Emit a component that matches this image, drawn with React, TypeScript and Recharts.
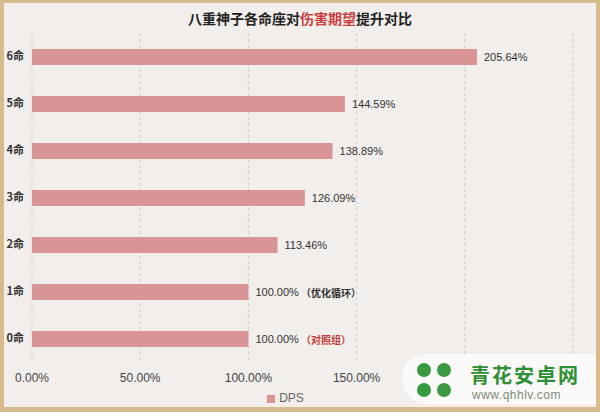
import React from 'react';
import { BarChart, Bar, XAxis, YAxis, CartesianGrid, Legend, LabelList } from 'recharts';

const categories = ['6命', '5命', '4命', '3命', '2命', '1命', '0命'];
const dpsValues = [205.64, 144.59, 138.89, 126.09, 113.46, 100.0, 100.0];
const notes = ['', '', '', '', '', '（优化循环）', '（对照组）'];
const noteColors = ['#333', '#333', '#333', '#333', '#333', '#333', '#c23b3b'];
const xTicks = [0, 50, 100, 150, 200, 250];
const visibleTickMax = 150;

const data = categories.map((c, i) => ({ name: c, DPS: dpsValues[i] }));

const BAR_COLOR = '#d99596';
const NUM_FONT = '"Liberation Sans", Arial, sans-serif';
const CJK_FONT = '"Noto Sans CJK SC", sans-serif';

const renderLabel = (props: any) => {
  const { x, y, width, height, value, index } = props;
  const tx = Number(x) + Number(width) + 7;
  const ty = Number(y) + Number(height) / 2;
  return (
    <text x={tx} y={ty} dominantBaseline="central" fontSize={11} fontFamily={NUM_FONT} fill="#333">
      {Number(value).toFixed(2) + '%'}
      {notes[index] ? (
        <tspan fill={noteColors[index]} fontFamily={CJK_FONT} fontWeight={700} fontSize={10}>
          {' ' + notes[index]}
        </tspan>
      ) : null}
    </text>
  );
};

const XTick = (props: any) => {
  const { x, y, payload } = props;
  if (payload.value > visibleTickMax) return <g />;
  return (
    <text x={x} y={y} dy={10} textAnchor="middle" fontSize={12} fontFamily={NUM_FONT} fill="#444">
      {Number(payload.value).toFixed(2) + '%'}
    </text>
  );
};

export default function App() {
  return (
    <div style={{ position: 'absolute', left: 0, top: 0, width: 600, height: 412, background: '#f2eeeb', overflow: 'hidden' }}>
      <div
        style={{
          position: 'absolute',
          top: 8,
          left: 0,
          width: 600,
          textAlign: 'center',
          fontFamily: CJK_FONT,
          fontWeight: 700,
          fontSize: 14,
          color: '#222',
          lineHeight: '20px',
        }}
      >
        八重神子各命座对<span style={{ color: '#c9403e' }}>伤害期望</span>提升对比
      </div>
      <div style={{ position: 'absolute', left: 0, top: 0 }}>
        <BarChart
          width={600}
          height={412}
          data={data}
          layout="vertical"
          margin={{ top: 33, right: 27, left: 8, bottom: 1 }}
          barCategoryGap={15}
        >
          <CartesianGrid horizontal={false} stroke="#cfcac6" strokeDasharray="3 3" />
          <XAxis
            type="number"
            domain={[0, 250]}
            ticks={xTicks}
            axisLine={false}
            tickLine={false}
            tickMargin={4}
            height={29}
            tick={<XTick />}
            interval={0}
          />
          <YAxis
            type="category"
            dataKey="name"
            width={24}
            axisLine={false}
            tickLine={false}
            tick={{ fill: '#333', fontSize: 11, fontFamily: CJK_FONT, fontWeight: 700 }}
          />
          <Legend
            verticalAlign="bottom"
            iconType="square"
            iconSize={8}
            height={20}
            wrapperStyle={{ fontSize: 12, fontFamily: NUM_FONT, color: '#666' }}
            formatter={(v: string) => <span style={{ color: '#666' }}>{v}</span>}
          />
          <Bar dataKey="DPS" fill={BAR_COLOR} barSize={16} isAnimationActive={false}>
            <LabelList dataKey="DPS" content={renderLabel} />
          </Bar>
        </BarChart>
      </div>
      {/* watermark overlay */}
      <div
        style={{
          position: 'absolute',
          left: 402,
          top: 354,
          width: 220,
          height: 50,
          borderRadius: 25,
          background: '#fbfaf8',
        }}
      />
      <svg style={{ position: 'absolute', left: 410, top: 358 }} width={50} height={44}>
        <circle cx={14} cy={12} r={7} fill="#3a9a3f" />
        <circle cx={34} cy={12} r={7} fill="#3a9a3f" />
        <circle cx={14} cy={32} r={7} fill="#3a9a3f" />
        <circle cx={34} cy={32} r={7} fill="#3a9a3f" />
        <circle cx={24} cy={22} r={6} fill="#fbfaf8" />
      </svg>
      <div
        style={{
          position: 'absolute',
          left: 470,
          top: 364,
          fontFamily: CJK_FONT,
          fontWeight: 700,
          fontSize: 20,
          lineHeight: '22px',
          color: '#2f8f35',
          letterSpacing: 2,
        }}
      >
        青花安卓网
      </div>
      <div
        style={{
          position: 'absolute',
          left: 472,
          top: 389,
          fontFamily: NUM_FONT,
          fontSize: 12,
          lineHeight: '13px',
          color: '#7a8a7a',
          letterSpacing: 0.5,
        }}
      >
        www.qhhlv.com
      </div>
      <div
        style={{
          position: 'absolute',
          left: 0,
          top: 0,
          width: 600,
          height: 412,
          boxSizing: 'border-box',
          borderStyle: 'solid',
          borderColor: '#d8bb8c',
          borderWidth: '3px 4px 5px 4px',
          pointerEvents: 'none',
        }}
      />
    </div>
  );
}
